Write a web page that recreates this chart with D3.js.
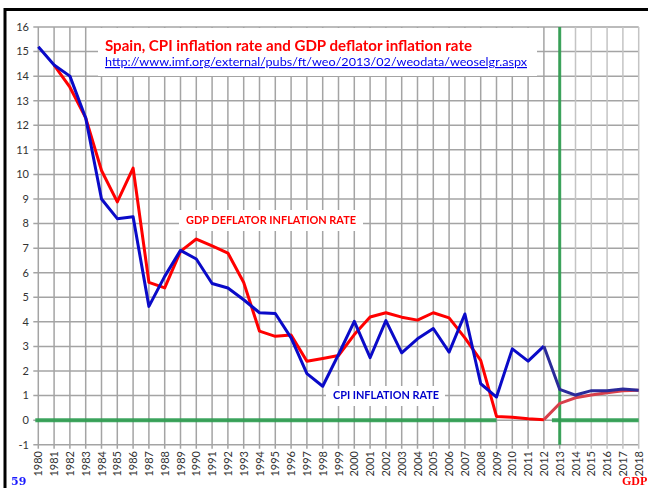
<!DOCTYPE html>
<html>
<head>
<meta charset="utf-8">
<script src="https://cdn.jsdelivr.net/npm/d3@7"></script>
<style>
  body { margin: 0; background: #fff; }
  svg { display: block; }
</style>
</head>
<body>
<div id="chart"></div>
<script>
// chart data
var years = d3.range(1980, 2019);
var cpi = [15.2, 14.45, 14.0, 12.3, 9.0, 8.2, 8.28, 4.63, 5.85, 6.91,
           6.56, 5.56, 5.38, 4.9, 4.37, 4.34, 3.35, 1.89, 1.38, 2.67,
           4.02, 2.54, 4.05, 2.74, 3.31, 3.73, 2.77, 4.32, 1.48, 0.94,
           2.9, 2.4, 3.01, 1.25, 1.02, 1.2, 1.2, 1.27, 1.22];
var deflator = [null, 14.45, 13.55, 12.3, 10.16, 8.88, 10.26, 5.61, 5.38, 6.87,
                7.37, 7.09, 6.8, 5.6, 3.62, 3.41, 3.46, 2.4, 2.51, 2.63,
                3.48, 4.2, 4.37, 4.19, 4.07, 4.37, 4.16, 3.35, 2.43, 0.15,
                0.12, 0.06, 0.02, 0.68, 0.91, 1.02, 1.11, 1.2, 1.22];
var yTicks = d3.range(-1, 17);
var lastActual = 2012;
var splitYear = 2013;

var svg_width = 648, svg_height = 488;

var svg = d3.select("#chart").append("svg")
    .attr("width", svg_width)
    .attr("height", svg_height);

var defs = svg.append("defs");
defs.append("filter").attr("id", "soft")
    .append("feGaussianBlur").attr("stdDeviation", 0.7);

// scales
var x = d3.scaleLinear().domain([1980, 2018]).range([38.3, 638.7]);
var y = d3.scaleLinear().domain([-1, 16]).range([444.7, 27]);

// outer frame
svg.append("line").attr("x1", 5).attr("x2", 5).attr("y1", 8).attr("y2", 488)
    .attr("stroke", "#000").attr("stroke-width", 3);
svg.append("line").attr("x1", 4).attr("x2", 648).attr("y1", 9.5).attr("y2", 9.5)
    .attr("stroke", "#000").attr("stroke-width", 3);

// grid
var grid = svg.append("g");
grid.selectAll(".hgrid").data(yTicks).enter().append("line")
    .attr("x1", x(1980) - 5).attr("x2", x(2018))
    .attr("y1", d => y(d)).attr("y2", d => y(d))
    .attr("stroke", "#a4a4a4").attr("stroke-width", 1.5);
grid.selectAll(".vgrid").data(years).enter().append("line")
    .attr("x1", d => x(d)).attr("x2", d => x(d))
    .attr("y1", y(16)).attr("y2", y(-1) + 4)
    .attr("stroke", d => d > splitYear ? "#c4c4c4" : "#a4a4a4")
    .attr("stroke-width", 1.5);

// y tick labels
svg.append("g").selectAll("text").data(yTicks).enter().append("text")
    .attr("x", 29).attr("y", d => y(d)).attr("dy", "0.35em")
    .attr("text-anchor", "end")
    .style("font-family", "Lato, 'Open Sans', sans-serif")
    .style("font-size", "11px").style("fill", "#333")
    .text(d => d);

// x tick labels, rotated
svg.append("g").selectAll("text").data(years).enter().append("text")
    .attr("transform", d => `translate(${x(d) + 4},451) rotate(-90)`)
    .attr("text-anchor", "end")
    .style("font-family", "Lato, 'Open Sans', sans-serif")
    .style("font-size", "11px").style("fill", "#333")
    .text(d => d);

// green zero line and 2013 marker
var green = svg.append("g").attr("filter", "url(#soft)");
green.append("line").attr("x1", x(1980) - 3).attr("x2", x(2009))
    .attr("y1", y(0)).attr("y2", y(0))
    .attr("stroke", "#2e9e50").attr("stroke-width", 4).attr("opacity", 0.9);
green.append("line").attr("x1", x(2012) + 8).attr("x2", x(2018))
    .attr("y1", y(0)).attr("y2", y(0))
    .attr("stroke", "#2e9e50").attr("stroke-width", 4).attr("opacity", 0.9);
green.append("line").attr("x1", x(splitYear)).attr("x2", x(splitYear))
    .attr("y1", y(16)).attr("y2", y(-1))
    .attr("stroke", "#2e9e50").attr("stroke-width", 3).attr("opacity", 0.9);

// label boxes
svg.append("rect").attr("x", 98).attr("y", 28).attr("width", 439).attr("height", 48).attr("fill", "#fff");
svg.append("rect").attr("x", 179).attr("y", 210).attr("width", 184).attr("height", 21).attr("fill", "#fff");
svg.append("rect").attr("x", 326).attr("y", 386).attr("width", 119).attr("height", 20).attr("fill", "#fff");

// series lines
var line = d3.line()
    .defined(d => d.v != null)
    .x(d => x(d.year))
    .y(d => y(d.v));

function series(values) {
    return years.map((yr, i) => ({ year: yr, v: values[i] }));
}

var cpiData = series(cpi);
var defData = series(deflator);

svg.append("path").datum(defData.filter(d => d.year <= lastActual))
    .attr("d", line).attr("fill", "none")
    .attr("stroke", "#ff0000").attr("stroke-width", 3).attr("stroke-linejoin", "round");
svg.append("path").datum(cpiData.filter(d => d.year <= lastActual))
    .attr("d", line).attr("fill", "none")
    .attr("stroke", "#0a0ac8").attr("stroke-width", 3).attr("stroke-linejoin", "round");

// projections, drawn softer
svg.append("path").datum(defData.filter(d => d.year >= lastActual))
    .attr("d", line).attr("fill", "none").attr("filter", "url(#soft)")
    .attr("stroke", "#d8404c").attr("stroke-width", 3);
svg.append("path").datum(cpiData.filter(d => d.year >= lastActual))
    .attr("d", line).attr("fill", "none").attr("filter", "url(#soft)")
    .attr("stroke", "#2a2a9a").attr("stroke-width", 3);

// titles and labels
svg.append("text").attr("x", 105).attr("y", 51)
    .attr("textLength", 367).attr("lengthAdjust", "spacingAndGlyphs")
    .style("font-family", "Lato, 'Open Sans', sans-serif")
    .style("font-size", "16px").style("font-weight", "bold").style("fill", "#ff0000")
    .text("Spain, CPI inflation rate and GDP deflator inflation rate");
svg.append("text").attr("x", 105).attr("y", 66)
    .attr("textLength", 422).attr("lengthAdjust", "spacingAndGlyphs")
    .style("font-family", "Lato, 'Open Sans', sans-serif")
    .style("font-size", "12px").style("fill", "#0000ee")
    .style("text-decoration", "underline")
    .text("http://www.imf.org/external/pubs/ft/weo/2013/02/weodata/weoselgr.aspx");
svg.append("text").attr("x", 186).attr("y", 224)
    .attr("textLength", 170).attr("lengthAdjust", "spacingAndGlyphs")
    .style("font-family", "Lato, 'Open Sans', sans-serif")
    .style("font-size", "11px").style("font-weight", "bold").style("fill", "#ff0000")
    .text("GDP DEFLATOR INFLATION RATE");
svg.append("text").attr("x", 333).attr("y", 399)
    .attr("textLength", 106).attr("lengthAdjust", "spacingAndGlyphs")
    .style("font-family", "Lato, 'Open Sans', sans-serif")
    .style("font-size", "11px").style("font-weight", "bold").style("fill", "#0000cc")
    .text("CPI INFLATION RATE");

// page corner marks
svg.append("text").attr("x", 11).attr("y", 485)
    .style("font-family", "'DejaVu Serif', serif")
    .style("font-size", "11px").style("font-weight", "bold").style("fill", "#1a1aff")
    .text("59");
svg.append("text").attr("x", 622).attr("y", 485)
    .style("font-family", "'Liberation Serif', serif")
    .style("font-size", "12px").style("font-weight", "bold").style("fill", "#ff0000")
    .text("GDP");
</script>
</body>
</html>
